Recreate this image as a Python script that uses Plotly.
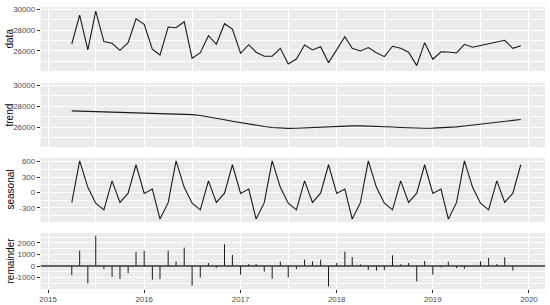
import pandas as pd
import plotly.graph_objects as go

# monthly series, Apr 2015 .. Dec 2019
dates = pd.date_range("2015-04-01", periods=57, freq="MS")

data_vals = [26670, 29480, 26090, 29870, 26900, 26740, 26060, 26800, 29120,
             28580, 26160, 25600, 28320, 28250, 28830, 25280, 25830, 27480, 26640, 28640, 28120,
             25770, 26600, 25870, 25480, 25480, 26250, 24730, 25210, 26570, 26090, 26410, 24860,
             26120, 27380, 26250, 25990, 26330, 25830, 25440, 26450, 26250, 25870, 24570, 26800,
             25190, 25920, 25890, 25800, 26640, 26350, 26520, 26690, 26860, 27030, 26250, 26500]

trend_vals = [27560, 27540, 27520, 27500, 27480, 27460, 27440, 27420, 27400,
              27370, 27340, 27310, 27280, 27260, 27240, 27200, 27120, 27000, 26850, 26700, 26560,
              26420, 26300, 26180, 26060, 25960, 25900, 25870, 25880, 25920, 25960, 26000, 26040,
              26080, 26100, 26110, 26110, 26100, 26080, 26040, 26000, 25960, 25920, 25900, 25890,
              25900, 25920, 25960, 26020, 26100, 26200, 26300, 26400, 26480, 26560, 26640, 26720]

seasonal_vals = [-200, 615, 100, -210, -340, 225, -195, -15, 540,
                 -20, 65, -520, -200, 615, 100, -210, -340, 225, -195, -15, 540,
                 -20, 65, -520, -200, 615, 100, -210, -340, 225, -195, -15, 540,
                 -20, 65, -520, -200, 615, 100, -210, -340, 225, -195, -15, 540,
                 -20, 65, -520, -200, 615, 100, -210, -340, 225, -195, -15, 540]

remainder_vals = [-780, 1330, -1500, 2640, -260, -930, -1130, -610, 1220,
                  1330, -1190, -1130, 1330, 400, 1590, -1710, -990, 260, -150, 1880, 960,
                  -750, 170, 170, -490, -1100, 380, -990, -260, 550, 410, 550, -1770,
                  260, 1250, 780, 150, -320, -400, -350, 930, 150, 260, -1330, 440,
                  -750, -120, 380, -170, -230, 40, 410, 700, 170, 750, -400, 0]

panel_titles = ["data", "trend", "seasonal", "remainder"]

W, H = 550, 305

def fx(px):
    return px / W

def fy(py):
    return 1 - py / H

panels_px = [(7, 71), (83, 147), (158, 222), (233, 289)]  # top, bottom in px
x_dom = [fx(40.7), fx(545)]

tickfont = dict(family="Liberation Sans, Arial", size=7.9, color="#4D4D4D")
line_col = "#1a1a1a"

fig = go.Figure()

for i, vals in enumerate([data_vals, trend_vals, seasonal_vals]):
    sfx = "" if i == 0 else str(i + 1)
    fig.add_trace(go.Scatter(x=dates, y=vals, mode="lines",
                             line=dict(color=line_col, width=1.1),
                             xaxis="x" + sfx, yaxis="y" + sfx, showlegend=False))

# remainder as vertical segments from zero
seg_x, seg_y = [], []
for d, r in zip(dates, remainder_vals):
    seg_x += [d, d, None]
    seg_y += [0, r, None]
fig.add_trace(go.Scatter(x=seg_x, y=seg_y, mode="lines",
                         line=dict(color=line_col, width=1),
                         xaxis="x4", yaxis="y4", showlegend=False))
fig.add_shape(type="line", xref="x4 domain", yref="y4", x0=0, x1=1, y0=0, y1=0,
              line=dict(color="#333333", width=1.6))

y_ranges = [[24050, 30260], [24080, 30240], [-577, 672], [-1990, 2860]]
y_ticks = [[26000, 28000, 30000], [26000, 28000, 30000], [-300, 0, 300, 600], [-1000, 0, 1000, 2000]]
y_minor = [1000, 1000, 150, 500]
y_dticks = [2000, 2000, 300, 1000]

layout = dict(width=W, height=H, margin=dict(l=0, r=0, t=0, b=0),
              paper_bgcolor="white", plot_bgcolor="#EBEBEB", showlegend=False)

for i in range(4):
    sfx = "" if i == 0 else str(i + 1)
    top, bot = panels_px[i]
    layout["xaxis" + sfx] = dict(
        domain=x_dom, anchor="y" + sfx, type="date", automargin=False,
        range=["2014-12-04", "2020-03-02"],
        showgrid=True, gridcolor="white", gridwidth=1,
        dtick="M12", tick0="2015-01-01", tickformat="%Y",
        minor=dict(showgrid=True, gridcolor="white", gridwidth=0.5,
                   dtick="M12", tick0="2015-07-01"),
        zeroline=False, showline=False,
        showticklabels=(i == 3), ticks="outside" if i == 3 else "",
        ticklen=3, tickcolor="#333333", tickfont=tickfont,
        matches=None if i == 0 else "x",
    )
    layout["yaxis" + sfx] = dict(
        domain=[fy(bot), fy(top)], anchor="x" + sfx, automargin=False,
        range=y_ranges[i], tickvals=y_ticks[i],
        ticktext=[str(v) for v in y_ticks[i]],
        showgrid=True, gridcolor="white", gridwidth=1,
        minor=dict(showgrid=True, gridcolor="white", gridwidth=0.5,
                   dtick=y_dticks[i], tick0=y_minor[i]),
        zeroline=False, showline=False,
        ticks="outside", ticklen=3, tickcolor="#333333", tickfont=tickfont,
    )

fig.update_layout(**layout)

for i, t in enumerate(panel_titles):
    top, bot = panels_px[i]
    fig.add_annotation(text=t, xref="paper", yref="paper",
                       x=fx(9.5), y=fy((top + bot) / 2), textangle=-90,
                       showarrow=False, xanchor="center", yanchor="middle",
                       font=dict(family="Liberation Sans, Arial", size=10, color="black"))

# drop the browser's default body margin so the figure sits at the window corner
fig.write_html("out.html", config={"displayModeBar": False},
               post_script="document.body.style.margin='0px';")
